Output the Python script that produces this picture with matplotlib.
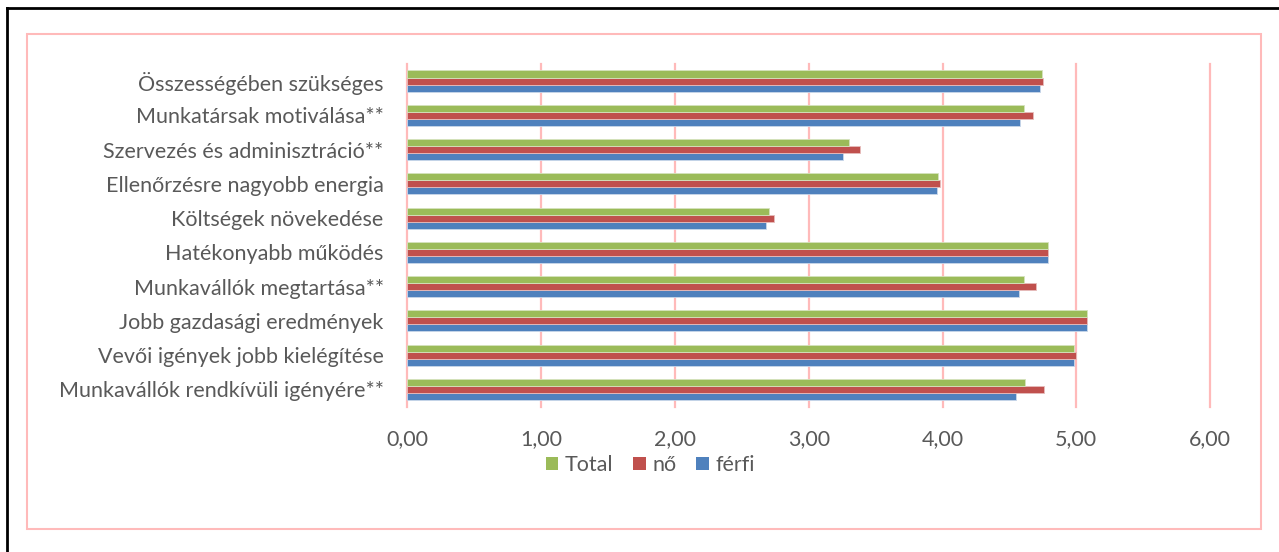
import matplotlib
matplotlib.use("Agg")
import matplotlib.pyplot as plt
from matplotlib.patches import Rectangle, Patch
from matplotlib.lines import Line2D
from matplotlib.ticker import FixedLocator, FuncFormatter
import numpy as np

# Categories listed bottom-to-top as they appear on the axis
categories = [
    "Munkavállók rendkívüli igényére**",
    "Vevői igények jobb kielégítése",
    "Jobb gazdasági eredmények",
    "Munkavállók megtartása**",
    "Hatékonyabb működés",
    "Költségek növekedése",
    "Ellenőrzésre nagyobb energia",
    "Szervezés és adminisztráció**",
    "Munkatársak motiválása**",
    "Összességében szükséges",
]

ferfi = [4.55, 4.98, 5.08, 4.57, 4.79, 2.68, 3.96, 3.26, 4.58, 4.73]
no = [4.76, 5.00, 5.08, 4.70, 4.79, 2.74, 3.98, 3.38, 4.68, 4.75]
total = [4.62, 4.98, 5.08, 4.61, 4.79, 2.70, 3.97, 3.30, 4.61, 4.74]

series_names = ["Total", "nő", "férfi"]
x_ticks = [0, 1, 2, 3, 4, 5, 6]

C_TOTAL = "#9BBB59"
C_NO = "#C0504D"
C_FERFI = "#4F81BD"
GRID = "#FFBABA"
TEXT = "#595959"

plt.rcParams["font.family"] = ["Lato", "DejaVu Sans"]

W, H = 1279, 552
fig = plt.figure(figsize=(W / 100, H / 100), dpi=100)

# Frame lines around the chart
fig.add_artist(Rectangle((27 / W, 1 - 528.5 / H), (1260.5 - 27) / W, (528.5 - 34.3) / H,
                         transform=fig.transFigure, fill=False, edgecolor=GRID, lw=1.5))
fig.add_artist(Line2D([7 / W, 7 / W], [0, 1 - 8 / H], transform=fig.transFigure,
                      color="black", lw=2))
fig.add_artist(Line2D([7 / W, 1], [1 - 8 / H, 1 - 8 / H], transform=fig.transFigure,
                      color="black", lw=2))

ax_left = 407.3 / W
ax_w = (6 * 133.8) / W
ax_bottom = 1 - 406.6 / H
ax_h = (406.6 - 63.9) / H
ax = fig.add_axes([ax_left, ax_bottom, ax_w, ax_h])

y = np.arange(len(categories))
h = 0.205
ax.barh(y - h, ferfi, height=h, color=C_FERFI, edgecolor="#C9D7EA", lw=0.6, zorder=3)
ax.barh(y, no, height=h, color=C_NO, edgecolor="#E7BDBC", lw=0.6, zorder=3)
ax.barh(y + h, total, height=h, color=C_TOTAL, edgecolor="#D5E2BE", lw=0.6, zorder=3)

ax.set_xlim(0, 6)
ax.set_ylim(-0.5, len(categories) - 0.5)
ax.xaxis.set_major_locator(FixedLocator(x_ticks))
ax.xaxis.set_major_formatter(FuncFormatter(lambda v, p: f"{v:.2f}".replace(".", ",")))
ax.set_yticks(y)
ax.set_yticklabels(categories)

ax.grid(axis="x", color=GRID, lw=1.6, zorder=0)
for gl in ax.get_xgridlines():
    gl.set_clip_on(False)
for s in ax.spines.values():
    s.set_visible(False)
ax.tick_params(axis="both", length=0, colors=TEXT, labelsize=15.5)
ax.tick_params(axis="y", pad=17)
ax.tick_params(axis="x", pad=16)

handles = [Patch(facecolor=C_TOTAL), Patch(facecolor=C_NO), Patch(facecolor=C_FERFI)]
fig.legend(handles, series_names, loc="center", bbox_to_anchor=(650 / W, 1 - 465 / H),
           ncol=3, frameon=False, fontsize=15.5, labelcolor=TEXT,
           handlelength=0.6, handleheight=0.6, handletextpad=0.3, columnspacing=0.9)

fig.savefig("out.png", dpi=100)
